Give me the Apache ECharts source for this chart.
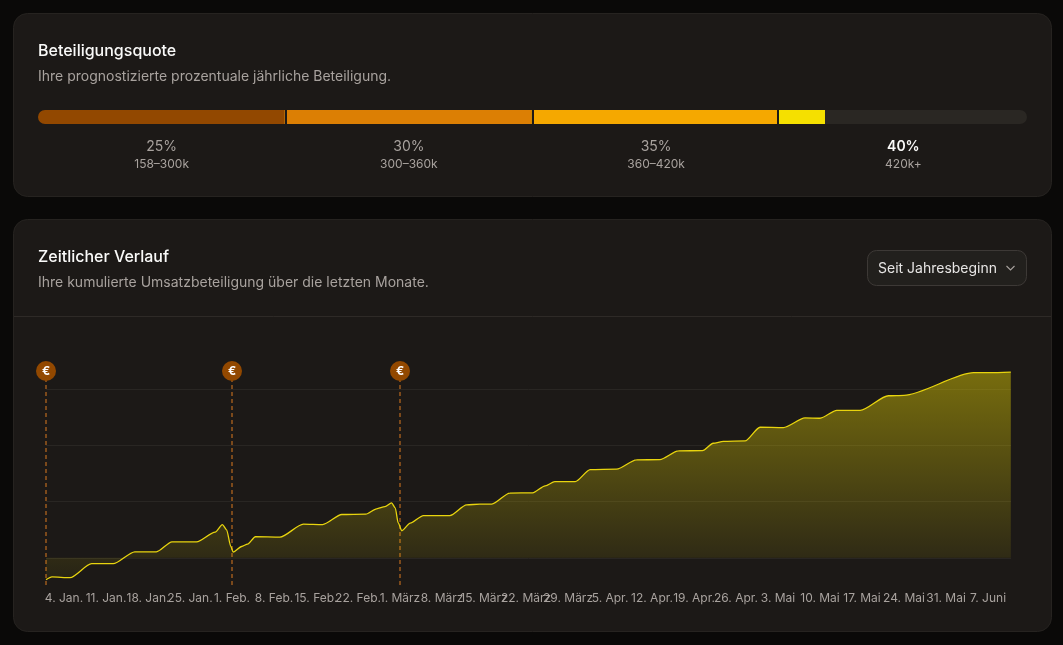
<!DOCTYPE html>
<html lang="de">
<head>
<meta charset="utf-8">
<title>Beteiligungsquote</title>
<style>
  html, body { margin: 0; padding: 0; background: #0a0908; }
  #chart { width: 1063px; height: 645px; }
</style>
<script src="https://cdn.jsdelivr.net/npm/echarts@6/dist/echarts.min.js"></script>
</head>
<body>
<div id="chart"></div>
<script>
// Participation tiers
const tierRates = ['25%', '30%', '35%', '40%'];
const tierRanges = ['158–300k', '300–360k', '360–420k', '420k+'];
const tierCenters = [0.5, 1.5, 2.5, 3.5];
const tierBoundaries = [0.996, 1.995, 2.992];
const tierProgress = [0.996, 0.999, 0.997, 0.191, 0.817];
const activeTier = 3;

// Cumulative revenue share, by day of the year counted from 1 January
const days = [0, 1, 4, 7.6, 11.2, 14.8, 18.4, 21, 25.1, 28.2, 29.4, 30.1, 30.8, 31.2, 32.6, 33.6, 34.9, 39,
  42.9, 46.1, 49.3, 53.3, 55.1, 56.5, 57.6, 58.2, 58.7, 59.3, 60.7, 62.9, 67.3, 70.1, 72.3, 74.3, 77.3, 81.1,
  83.2, 84.8, 88.2, 90.7, 95.1, 98.4, 102.3, 105.4, 109.4, 111.2, 112.9, 116.5, 119, 122.9, 126.5, 129,
  131.8, 135.7, 140.4, 143, 154.6, 157.3, 160.8];
const revenue = [-39, -34, -35.5, -10.6, -10.6, 10.6, 10.6, 28.4, 28.4, 45.6, 59, 49.7, 20, 10, 20, 24.3, 37.3, 36.7,
  59.8, 59, 76.9, 77.6, 87, 91, 97.6, 88.8, 62, 48, 61.6, 75, 75, 94, 95.3, 95.3, 115, 115.4,
  127.8, 135.4, 135.4, 156.7, 157.4, 174, 174.5, 190, 190.5, 203.6, 207, 207.7, 232, 231.3, 248.5, 248,
  262, 262, 288, 288.8, 329, 329, 330];

// Payout days
const payoutDays = [0, 31, 59];

// Weekly date ticks
const tickDays = [3, 10, 17, 24, 31, 38, 45, 52, 59, 66, 73, 80, 87, 94, 101, 108, 115, 122, 129, 136, 143, 150, 157];
const tickLabels = ['4. Jan.', '11. Jan.', '18. Jan.', '25. Jan.', '1. Feb.', '8. Feb.', '15. Feb.', '22. Feb.',
  '1. März', '8. März', '15. März', '22. März', '29. März', '5. Apr.', '12. Apr.', '19. Apr.', '26. Apr.',
  '3. Mai', '10. Mai', '17. Mai', '24. Mai', '31. Mai', '7. Juni'];
const gridValues = [0, 100, 200, 300];

const FONT = 'Inter, "Noto Sans", sans-serif';
const CARD = '#1c1917';
const MUTED = '#a8a29e';
const tierColors = ['#924800', '#dc7f04', '#f5a800', '#f5e000', '#2a2723'];
const PAYOUT = '#924800';
const PAYOUT_LINE = '#9a5a1e';
const LINE = '#e8d40e';
const yMin = -52;
const yMax = 332;

function card(y, height) {
  return { type: 'rect', silent: true, z: -10,
    shape: { x: 13.5, y: y + 0.5, width: 1038, height: height, r: 14 },
    style: { fill: CARD, stroke: '#262320', lineWidth: 1 } };
}
function text(x, y, str, size, weight, color) {
  return { type: 'text', silent: true, z: 5, x, y,
    style: { text: str, fontFamily: FONT, fontSize: size, fontWeight: weight, fill: color, verticalAlign: 'middle' } };
}

const tierSeries = tierProgress.map((value, i) => ({
  type: 'bar', xAxisIndex: 0, yAxisIndex: 0, stack: 'tier', silent: true,
  barWidth: 14, data: [value],
  itemStyle: {
    color: tierColors[i],
    borderRadius: i === 0 ? [7, 0, 0, 7] : i === tierProgress.length - 1 ? [0, 7, 7, 0] : 0
  },
  markLine: i === tierProgress.length - 1 ? {
    silent: true, symbol: 'none', animation: false, label: { show: false },
    lineStyle: { color: CARD, width: 2, type: 'solid' },
    data: tierBoundaries.map(b => ({ xAxis: b }))
  } : undefined
}));

const option = {
  animation: false,
  backgroundColor: '#0a0908',
  textStyle: { fontFamily: FONT },
  graphic: { elements: [
    card(13, 183),
    card(219, 412),
    text(38, 51.5, 'Beteiligungsquote', 16, 500, '#fafaf9'),
    text(38, 77, 'Ihre prognostizierte prozentuale jährliche Beteiligung.', 14, 400, MUTED),
    text(38, 257.5, 'Zeitlicher Verlauf', 16, 500, '#fafaf9'),
    text(38, 283, 'Ihre kumulierte Umsatzbeteiligung über die letzten Monate.', 14, 400, MUTED),
    { type: 'line', silent: true, z: 1, shape: { x1: 14, y1: 316.5, x2: 1051, y2: 316.5 },
      style: { stroke: '#2e2a27', lineWidth: 1 } },
    { type: 'rect', silent: true, z: 1, shape: { x: 867.5, y: 250.5, width: 159, height: 35, r: 9 },
      style: { fill: '#22201d', stroke: '#3d3936', lineWidth: 1 } },
    text(878, 269, 'Seit Jahresbeginn', 14, 400, '#e7e5e4'),
    { type: 'polyline', silent: true, z: 5, shape: { points: [[1006.5, 266], [1010.5, 270], [1014.5, 266]] },
      style: { stroke: '#a8a29e', lineWidth: 1.1, fill: 'none' } }
  ] },
  grid: [
    { left: 38, width: 989, top: 110, height: 14 },
    { left: 46, right: 52, top: 371, height: 216 }
  ],
  xAxis: [
    { gridIndex: 0, type: 'value', min: 0, max: 4,
      axisLine: { show: false }, splitLine: { show: false }, axisTick: { show: false, customValues: tierCenters },
      axisLabel: {
        show: true, customValues: tierCenters, margin: 14, hideOverlap: false,
        formatter: value => {
          const idx = tierCenters.indexOf(value);
          return '{' + (idx === activeTier ? 'on' : 'rate') + '|' + tierRates[idx] + '}\n{range|' + tierRanges[idx] + '}';
        },
        rich: {
          rate: { fontFamily: FONT, fontSize: 14, color: MUTED, lineHeight: 18, align: 'center' },
          on: { fontFamily: FONT, fontSize: 14, fontWeight: 600, color: '#fafaf9', lineHeight: 18, align: 'center' },
          range: { fontFamily: FONT, fontSize: 12, color: MUTED, lineHeight: 16, align: 'center' }
        }
      } },
    { gridIndex: 1, type: 'value', min: 0, max: 160.83,
      axisLine: { show: false }, splitLine: { show: false }, axisTick: { show: false, customValues: tickDays },
      axisLabel: {
        show: true, customValues: tickDays, margin: 5, hideOverlap: false,
        fontFamily: FONT, fontSize: 12, color: MUTED,
        formatter: value => tickLabels[tickDays.indexOf(value)]
      } }
  ],
  yAxis: [
    { gridIndex: 0, type: 'category', data: ['Quote'], show: false },
    { gridIndex: 1, type: 'value', min: yMin, max: yMax,
      axisLine: { show: false },
      axisTick: { show: false, customValues: gridValues },
      axisLabel: { show: false, customValues: gridValues },
      splitLine: { show: true, lineStyle: { color: '#292623', width: 1 } } }
  ],
  series: [
    ...tierSeries,
    { type: 'line', name: 'Umsatzbeteiligung', xAxisIndex: 1, yAxisIndex: 1, silent: true,
      data: days.map((d, i) => [d, revenue[i]]),
      showSymbol: false, smooth: 0.25, smoothMonotone: 'x',
      lineStyle: { color: LINE, width: 1.3 },
      areaStyle: {
        origin: 0,
        color: new echarts.graphic.LinearGradient(0, 0, 0, 1, [
          { offset: 0, color: 'rgba(245,224,0,0.6)' },
          { offset: 1, color: 'rgba(245,224,0,0.07)' }
        ])
      } },
    { type: 'scatter', name: 'Auszahlung', xAxisIndex: 1, yAxisIndex: 1, silent: true, clip: false, z: 4,
      data: payoutDays.map(d => [d, yMax]),
      symbol: 'circle', symbolSize: 20,
      itemStyle: { color: PAYOUT, opacity: 1 },
      label: { show: true, position: 'inside', formatter: '€', color: '#ffffff',
        fontFamily: FONT, fontSize: 12, fontWeight: 700 },
      markLine: {
        silent: true, symbol: 'none', animation: false, label: { show: false }, z: 3,
        lineStyle: { color: PAYOUT_LINE, width: 1.5, type: [4, 3], opacity: 1 },
        data: payoutDays.map(d => [{ coord: [d, yMax] }, { coord: [d, yMin] }])
      } }
  ]
};

const chart = echarts.init(document.getElementById('chart'), null, { renderer: 'canvas' });
chart.setOption(option);
</script>
</body>
</html>
